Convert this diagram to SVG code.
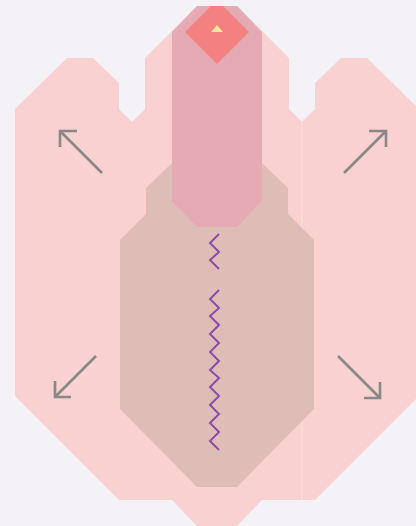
<svg xmlns="http://www.w3.org/2000/svg" width="416" height="526" viewBox="0 0 416 526">
<style>
.pink{fill:#f9d1d1}
.arrow{fill:none;stroke:#888888;stroke-width:2.6}
.zig{fill:none;stroke:#8e4ba8;stroke-width:2;stroke-linejoin:miter}
</style>
<rect width="416" height="526" fill="#f4f2f6"/>
<g id="left-center-shape">
<polygon class="pink" points="15,109 67,58 93,58 119,83 119,109 132,122 145,109 145,58 197,6 237,6 289,58 289,109 302,122 302,500 262,500 237,526 197,526 172,500 119,500 15,396"/>
</g>
<g id="right-shape">
<polygon class="pink" points="302,122 315,109 315,83 341,58 367,58 419,109 419,396 315,500 302,500"/>
<line x1="302" y1="122" x2="302" y2="500" stroke="#fbe2e2" stroke-width="1"/>
</g>
<g id="lower-core">
<polygon fill="#dfbdb7" points="172,163 262,163 288,188 288,214 314,240 314,409 237,487 197,487 120,409 120,240 146,214 146,188"/>
</g>
<g id="column">
<polygon fill="#e5aab4" points="172,32 197,6 237,6 262,32 262,201 237,227 197,227 172,201"/>
</g>
<g id="diamond">
<polygon fill="#f48181" points="211,6 223,6 249,32 217,64 185,32"/>
<polygon fill="#f5e7a0" points="217,25 223,32 211,32"/>
</g>
<g id="connectors">
<polyline class="zig" points="219,234 210,243 219,252 210,260 219,269"/>
<polyline class="zig" points="219,290 210,299 219,308 210,316 219,325 210,334 219,343 210,352 219,361 210,370 219,378 210,387 219,396 210,405 219,414 210,423 219,432 210,441 219,450"/>
<g class="arrow">
<line x1="102" y1="173" x2="60" y2="131"/><polyline points="77,131 60,131 60,147"/>
<line x1="344" y1="173" x2="386" y2="131"/><polyline points="369,131 386,131 386,147"/>
<line x1="96" y1="356" x2="55" y2="397"/><polyline points="55,381 55,397 71,397"/>
<line x1="338" y1="356" x2="380" y2="398"/><polyline points="364,398 380,398 380,382"/>
</g>
</g>
</svg>
